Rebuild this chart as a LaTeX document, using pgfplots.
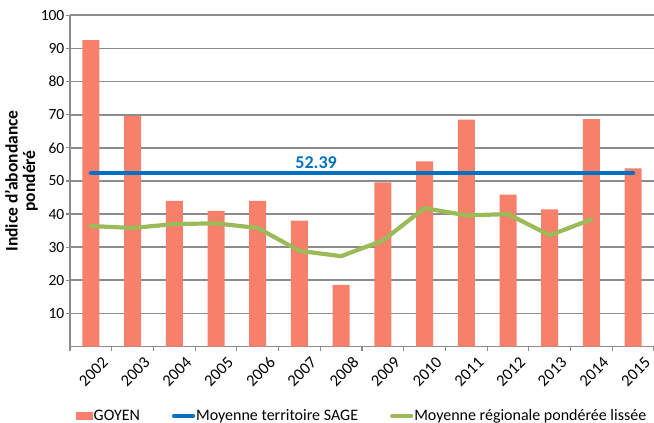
\documentclass[border=0pt]{standalone}
\usepackage{pgfplots}
\pgfplotsset{compat=1.18}
\usepackage{fontspec}
\setmainfont{Carlito}
\definecolor{barc}{HTML}{F7806A}
\definecolor{bluec}{HTML}{0070C0}
\definecolor{greenc}{HTML}{9BBB59}
\definecolor{gridc}{HTML}{8C8C8C}
\begin{document}
\begin{tikzpicture}
\begin{axis}[
  scale only axis,
  width=584pt, height=331.3pt,
  xmin=-0.5, xmax=13.5, ymin=0, ymax=100,
  ytick={10,20,...,100},
  xtick={0,...,13},
  xticklabels={2002,2003,2004,2005,2006,2007,2008,2009,2010,2011,2012,2013,2014,2015},
  minor xtick={-0.5,0.5,...,13.5},
  xtick style={draw=none},
  minor x tick style={draw=gridc, line width=1.2pt},
  major tick length=4pt, minor tick length=4pt,
  xtick pos=bottom, ytick pos=left,
  ytick style={draw=gridc, line width=1.2pt},
  tick align=outside,
  ymajorgrids,
  grid style={draw=gridc, line width=1.8pt},
  axis x line*=bottom, axis y line*=left,
  axis line style={draw=gridc, line width=1.8pt, -},
  every tick label/.append style={font=\fontsize{15.5}{17}\selectfont, text=black},
  /pgf/number format/assume math mode=true,
  y tick label style={inner sep=1.5pt},
  x tick label style={font=\fontsize{16.5}{17}\selectfont, rotate=45, anchor=north east, inner sep=1pt, yshift=-10pt, xshift=5pt},
  ylabel={\textbf{Indice d'abondance}\\\textbf{pondéré}},
  ylabel style={font=\fontsize{17.5}{17.5}\selectfont, align=center, at={(axis description cs:-0.049,0.5)}, anchor=south},
  legend style={at={(0.5,-0.2095)}, anchor=center, draw=none, legend columns=3,
    fill=none, inner sep=0pt,
    font=\fontsize{16}{17}\selectfont,
    /tikz/every even column/.append style={column sep=30pt},
    /tikz/every odd column/.append style={column sep=-1pt}},
  legend cell align=left,
  clip=false,
]
\addplot[ybar, bar width=17pt, fill=barc, draw=none, area legend,
  legend image code/.code={\fill[barc] (0pt,-4pt) rectangle (17pt,4pt);}]
  coordinates {(0,92.5) (1,69.6) (2,44.0) (3,41.0) (4,44.0) (5,38.0) (6,18.6)
  (7,49.6) (8,55.9) (9,68.5) (10,45.9) (11,41.4) (12,68.7) (13,53.8)};
\addlegendentry{GOYEN}
\addplot[bluec, line width=4.2pt, line cap=round,
  legend image code/.code={\draw[bluec, line width=4.2pt, line cap=round] (2pt,0pt) -- (21pt,0pt);}]
  coordinates {(0,52.39) (13,52.39)};
\addlegendentry{Moyenne territoire SAGE}
\addplot[greenc, line width=4.2pt, line cap=round, line join=round,
  legend image code/.code={\draw[greenc, line width=4.2pt, line cap=round] (2pt,0pt) -- (21pt,0pt);}]
  coordinates {(0,36.4) (1,35.8) (2,37.0) (3,37.2) (4,35.8) (5,28.9) (6,27.3)
  (7,32.0) (8,41.8) (9,39.6) (10,40.0) (11,33.6) (12,38.4)};
\addlegendentry{Moyenne régionale pondérée lissée}
\node[text=bluec, font=\fontsize{18}{18}\selectfont\bfseries] at (axis cs:5.4,55.6) {52.39};
\coordinate (bbl) at (axis description cs:-0.1199,-0.2306);
\coordinate (btr) at (axis description cs:1,1.0462);
\end{axis}
\pgfresetboundingbox
\path[use as bounding box] (bbl) rectangle (btr);
\end{tikzpicture}
\end{document}
